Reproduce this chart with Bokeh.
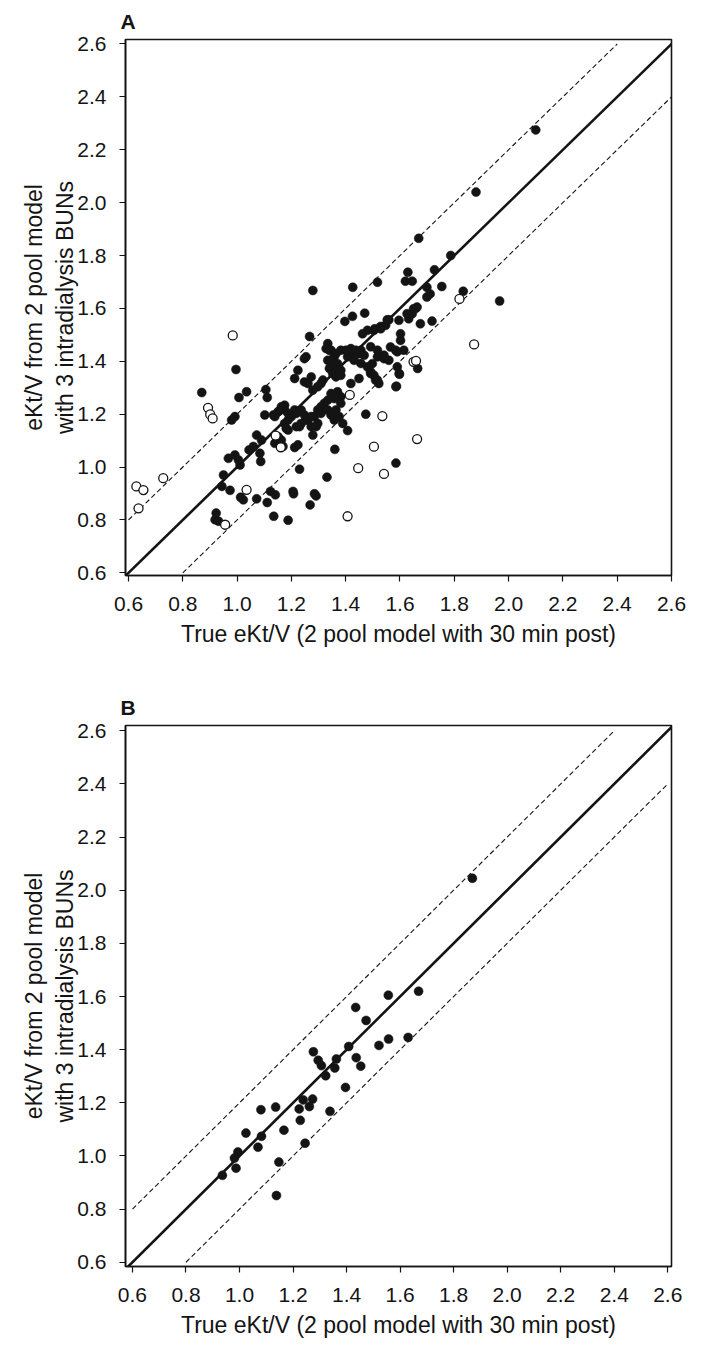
from bokeh.plotting import figure
from bokeh.models import FixedTicker, Range1d, NumeralTickFormatter
from bokeh.layouts import column
from bokeh.embed import file_html
from bokeh.resources import INLINE

# ---------------- data ----------------
ticks = [0.6, 0.8, 1.0, 1.2, 1.4, 1.6, 1.8, 2.0, 2.2, 2.4, 2.6]
x_title = "True eKt/V (2 pool model with 30 min post)"
y_title = "eKt/V from 2 pool model\nwith 3 intradialysis BUNs"

# Panel A, filled circles
a_fill_x = [2.10, 1.88, 1.787, 1.669, 1.727, 1.754, 1.629, 1.620, 1.645, 1.517, 1.426, 1.279,
            1.699, 1.711, 1.833, 1.967, 1.657, 1.645, 1.632, 1.663, 1.675, 1.718,
            1.596, 1.559, 1.547, 1.529, 1.504, 1.480, 1.462, 1.602, 1.602, 1.565, 1.614, 1.590,
            1.470, 1.425, 1.397, 1.665, 1.598, 1.587, 1.474, 1.360, 1.389, 1.407,
            1.510, 1.492, 1.498, 1.517, 1.541, 1.267, 1.254, 1.224, 1.212, 1.248, 1.273,
            1.334, 1.346, 1.358, 1.334, 1.370, 1.382, 1.407, 1.431, 1.456, 1.597, 1.585,
            0.996, 0.870, 1.035, 1.106, 1.007, 1.111, 0.980, 0.992, 1.102, 1.134, 1.151, 1.175,
            1.072, 1.090, 1.060, 1.044, 1.084, 1.087, 0.968, 0.992, 1.005, 1.011, 0.950, 0.944, 0.974,
            1.013, 1.023, 1.072, 1.111, 1.123, 1.141, 1.135, 1.188, 1.208, 1.269, 1.291, 1.331,
            1.230, 1.212, 1.585, 0.923, 0.919, 0.932,
            1.364, 1.382, 1.401, 1.419, 1.437, 1.449, 1.468, 1.492, 1.517, 1.541, 1.559, 1.584,
            1.590, 1.346, 1.358, 1.370, 1.382, 1.340, 1.352, 1.364,
            1.431, 1.456, 1.480, 1.492, 1.504, 1.517, 1.522, 1.419, 1.449,
            1.316, 1.309, 1.297, 1.279, 1.261, 1.248,
            1.346, 1.370, 1.382, 1.358, 1.334, 1.321, 1.309, 1.297,
            1.382, 1.364, 1.346, 1.358, 1.376, 1.285, 1.261, 1.248, 1.273, 1.297,
            1.236, 1.218, 1.200, 1.188, 1.175, 1.163, 1.151, 1.139, 1.175, 1.181, 1.218, 1.236,
            1.151, 1.139, 1.163, 1.169, 1.224, 1.279, 1.291, 1.206, 1.285,
            1.553, 1.529, 1.507, 1.626, 1.650, 1.699,
            1.254, 1.273, 1.309, 1.334, 1.230, 1.188, 1.212, 1.188, 1.328, 1.340]
a_fill_y = [2.275, 2.040, 1.800, 1.865, 1.746, 1.683, 1.737, 1.703, 1.703, 1.699, 1.680, 1.668,
            1.680, 1.655, 1.665, 1.628, 1.599, 1.580, 1.561, 1.605, 1.542, 1.552,
            1.555, 1.557, 1.536, 1.523, 1.517, 1.517, 1.504, 1.504, 1.479, 1.454, 1.442, 1.436,
            1.582, 1.570, 1.551, 1.373, 1.351, 1.306, 1.200, 1.067, 1.165, 1.138,
            1.329, 1.354, 1.391, 1.417, 1.410, 1.494, 1.417, 1.366, 1.335, 1.322, 1.341,
            1.467, 1.442, 1.417, 1.404, 1.391, 1.366, 1.417, 1.429, 1.442, 1.354, 1.304,
            1.369, 1.282, 1.285, 1.293, 1.263, 1.263, 1.178, 1.191, 1.197, 1.197, 1.209, 1.234,
            1.121, 1.102, 1.078, 1.065, 1.052, 1.021, 1.033, 1.046, 1.027, 1.008, 0.970, 0.927, 0.912,
            0.886, 0.876, 0.880, 0.866, 0.908, 0.895, 0.814, 0.799, 0.899, 0.857, 0.891, 0.962,
            0.992, 1.074, 1.015, 0.826, 0.801, 0.795,
            1.429, 1.442, 1.442, 1.448, 1.442, 1.429, 1.423, 1.455, 1.442, 1.423, 1.404, 1.442,
            1.379, 1.404, 1.385, 1.366, 1.347, 1.373, 1.354, 1.341,
            1.404, 1.392, 1.379, 1.360, 1.347, 1.329, 1.316, 1.316, 1.335,
            1.329, 1.316, 1.304, 1.291, 1.316, 1.410,
            1.278, 1.285, 1.266, 1.259, 1.253, 1.241, 1.228, 1.216,
            1.241, 1.216, 1.197, 1.178, 1.191, 1.191, 1.178, 1.197, 1.153, 1.165,
            1.216, 1.203, 1.191, 1.178, 1.216, 1.228, 1.209, 1.191, 1.165, 1.146, 1.153, 1.165,
            1.115, 1.090, 1.102, 1.078, 1.084, 1.121, 1.153, 0.908, 0.899,
            1.557, 1.532, 1.523, 1.580, 1.599, 1.643,
            1.178, 1.191, 1.203, 1.216, 1.153, 1.203, 1.216, 1.140, 1.448, 1.442]

# Panel A, open circles
a_open_x = [0.984, 0.893, 0.901, 0.910, 0.629, 0.655, 0.728, 0.637, 1.035, 1.161, 1.142,
            1.407, 1.446, 1.541, 1.504, 1.535, 1.663, 0.956, 1.415, 1.650, 1.659, 1.819, 1.873]
a_open_y = [1.498, 1.224, 1.199, 1.184, 0.927, 0.913, 0.958, 0.844, 0.914, 1.075, 1.119,
            0.814, 0.996, 0.974, 1.077, 1.193, 1.106, 0.782, 1.273, 1.398, 1.402, 1.636, 1.464]

# Panel B, filled circles
b_x = [1.870, 1.669, 1.556, 1.434, 1.473, 1.557, 1.521, 1.630, 1.408, 1.276, 1.294, 1.306,
       1.362, 1.356, 1.436, 1.453, 1.322, 1.396, 1.238, 1.273, 1.261, 1.223, 1.135, 1.080,
       1.227, 1.338, 1.166, 1.024, 1.082, 1.069, 1.245, 0.994, 0.981, 0.987, 0.936, 1.147, 1.138]
b_y = [2.045, 1.620, 1.605, 1.559, 1.510, 1.440, 1.416, 1.446, 1.412, 1.392, 1.360, 1.340,
       1.365, 1.331, 1.370, 1.338, 1.302, 1.258, 1.211, 1.214, 1.186, 1.177, 1.184, 1.174,
       1.134, 1.168, 1.097, 1.086, 1.074, 1.033, 1.048, 1.015, 0.992, 0.954, 0.927, 0.977, 0.851]

INK = "#141414"
FONT = "Liberation Sans"


def make_panel(label, xr, yr, height, b_top, b_bottom, b_left, b_right):
    p = figure(width=690, height=height, x_range=Range1d(*xr), y_range=Range1d(*yr),
               output_backend="svg", toolbar_location=None,
               min_border_top=b_top, min_border_bottom=b_bottom,
               min_border_left=b_left, min_border_right=b_right)
    p.title.text = label
    p.title.align = "left"
    p.title.offset = -5
    p.title.text_font = FONT
    p.title.text_font_size = "21px"
    p.title.text_font_style = "bold"
    p.title.text_color = INK
    p.title.standoff = 14
    p.grid.visible = False
    p.outline_line_color = INK
    p.outline_line_width = 1.6
    p.background_fill_color = "white"
    p.border_fill_color = "white"
    for ax in (p.xaxis[0], p.yaxis[0]):
        ax.ticker = FixedTicker(ticks=ticks)
        ax.formatter = NumeralTickFormatter(format="0.0")
        ax.axis_line_color = INK
        ax.axis_line_width = 1.6
        ax.major_tick_line_color = INK
        ax.major_tick_line_width = 1.2
        ax.major_tick_in = 0
        ax.major_tick_out = 6
        ax.minor_tick_line_color = None
        ax.major_label_text_font = FONT
        ax.major_label_text_font_size = "21px"
        ax.major_label_text_color = INK
        ax.axis_label_text_font = FONT
        ax.axis_label_text_font_size = "23px"
        ax.axis_label_text_font_style = "normal"
        ax.axis_label_text_color = INK
    p.xaxis.axis_label = x_title
    p.yaxis.axis_label = y_title
    p.xaxis.major_label_standoff = 15
    p.xaxis.axis_label_standoff = 7
    p.yaxis.major_label_standoff = 13
    p.yaxis.axis_label_standoff = -4
    # identity line and +/-0.2 bands
    p.line([0.5, 2.7], [0.5, 2.7], line_color=INK, line_width=2.6)
    p.line([0.6, 2.4], [0.8, 2.6], line_color=INK, line_width=1.1, line_dash="5 3")
    p.line([0.8, 2.6], [0.6, 2.4], line_color=INK, line_width=1.1, line_dash="5 3")
    return p


pA = make_panel("A", (0.589, 2.600), (0.590, 2.617), 678, 37, 103, 125, 16)
pA.scatter(a_fill_x, a_fill_y, size=9, fill_color=INK, line_color=INK, line_width=0.5)
pA.scatter(a_open_x, a_open_y, size=9, fill_color="white", line_color=INK, line_width=1.3)

pB = make_panel("B", (0.574, 2.614), (0.584, 2.620), 670, 47, 82, 124, 19)
pB.scatter(b_x, b_y, size=9, fill_color=INK, line_color=INK, line_width=0.5)

layout = column(pA, pB, spacing=0)
open("out.html", "w").write(file_html(layout, INLINE))
